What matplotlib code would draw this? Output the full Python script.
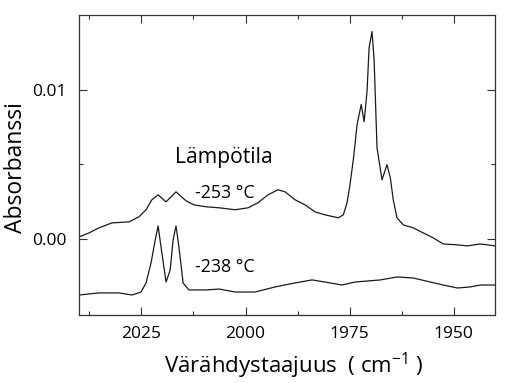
import matplotlib
matplotlib.use('Agg')
import matplotlib.pyplot as plt
from matplotlib.ticker import FixedLocator, MultipleLocator

plt.rcParams.update({'font.family': 'Open Sans'})

# spectrum at -253 C (upper trace)
wn_253 = [2040.0, 2037.6, 2035.2, 2032.1, 2028.0, 2025.6, 2023.9, 2022.5, 2021.0, 2019.1,
          2016.7, 2014.3, 2012.4, 2009.5, 2006.3, 2002.5, 1999.4, 1997.0, 1994.6, 1992.2,
          1990.5, 1988.1, 1985.7, 1983.3, 1980.9, 1977.7, 1976.5, 1975.6, 1974.9, 1974.1,
          1973.7, 1973.2, 1972.2, 1971.5, 1970.8, 1970.3, 1969.6, 1969.1, 1968.4, 1967.2,
          1966.0, 1965.2, 1964.5, 1963.6, 1962.1, 1959.7, 1957.3, 1954.9, 1952.5, 1949.1,
          1946.7, 1943.6, 1940.0]
abs_253 = [0.00013, 0.00040, 0.00074, 0.00107, 0.00114, 0.00148, 0.00195, 0.00262, 0.00295, 0.00248,
           0.00315, 0.00255, 0.00228, 0.00215, 0.00208, 0.00195, 0.00208, 0.00242, 0.00295, 0.00329,
           0.00315, 0.00262, 0.00228, 0.00181, 0.00161, 0.00141, 0.00161, 0.00242, 0.00362, 0.00530,
           0.00630, 0.00765, 0.00900, 0.00785, 0.00987, 0.01282, 0.01389, 0.01200, 0.00610, 0.00396,
           0.00497, 0.00409, 0.00262, 0.00141, 0.00094, 0.00074, 0.00040, 0.00007, -0.00034, -0.00040,
           -0.00047, -0.00034, -0.00047]

# spectrum at -238 C (lower trace)
wn_238 = [2040.0, 2035.2, 2030.4, 2027.3, 2025.1, 2023.9, 2022.7, 2021.7, 2021.0, 2020.3,
          2019.1, 2018.1, 2017.4, 2016.7, 2016.0, 2015.0, 2013.6, 2009.5, 2006.3, 2002.5,
          1997.7, 1992.9, 1988.1, 1984.0, 1980.9, 1976.8, 1973.7, 1967.6, 1963.6, 1959.7,
          1955.6, 1952.5, 1949.1, 1946.0, 1943.6, 1940.0]
abs_238 = [-0.00376, -0.00362, -0.00362, -0.00376, -0.00356, -0.00295, -0.00161, -0.00007, 0.00087, -0.00054,
           -0.00289, -0.00208, -0.00007, 0.00087, -0.00054, -0.00295, -0.00342, -0.00342, -0.00336, -0.00356,
           -0.00356, -0.00322, -0.00295, -0.00275, -0.00289, -0.00309, -0.00289, -0.00275, -0.00255, -0.00262,
           -0.00289, -0.00309, -0.00329, -0.00322, -0.00309, -0.00309]

x_major = [2025, 2000, 1975, 1950]
y_major = [0.0, 0.01]
y_labels = ['0.00', '0.01']

fig = plt.figure(figsize=(5.1, 3.83), dpi=100)
ax = fig.add_axes([0.155, 0.1775, 0.816, 0.7835])

ax.plot(wn_253, abs_253, color='#1a1a1a', linewidth=0.9)
ax.plot(wn_238, abs_238, color='#1a1a1a', linewidth=0.9)

ax.set_xlim(2040, 1940)
ax.set_ylim(-0.0051, 0.0150)

ax.xaxis.set_major_locator(FixedLocator(x_major))
ax.xaxis.set_minor_locator(MultipleLocator(12.5))
ax.yaxis.set_major_locator(FixedLocator(y_major))
ax.yaxis.set_minor_locator(FixedLocator([0.005]))
ax.set_yticklabels(y_labels)

ax.tick_params(which='both', direction='in', top=True, right=True, color='#333333',
               labelsize=12.5, width=0.8)
ax.tick_params(which='major', length=6)
ax.tick_params(which='minor', length=3)
ax.tick_params(axis='x', pad=8)
ax.tick_params(axis='y', pad=9)
for s in ax.spines.values():
    s.set_color('#333333')
    s.set_linewidth(0.9)

ax.set_xlabel('Värähdystaajuus  ( cm$^{\\mathregular{-1}}$ )', fontsize=16, labelpad=1)
ax.xaxis.set_label_coords(0.517, -0.12)
ax.set_ylabel('Absorbanssi', fontsize=16.5)
ax.yaxis.set_label_coords(-0.122, 0.49)

# annotations for the two temperatures
ax.text(2005.1, 0.0051, 'Lämpötila', fontsize=15.2, ha='center', va='baseline')
ax.text(2012.1, 0.00275, '-253 °C', fontsize=12.8, ha='left', va='baseline')
ax.text(2012.1, -0.00221, '-238 °C', fontsize=12.8, ha='left', va='baseline')

fig.savefig('out.png', dpi=100)
